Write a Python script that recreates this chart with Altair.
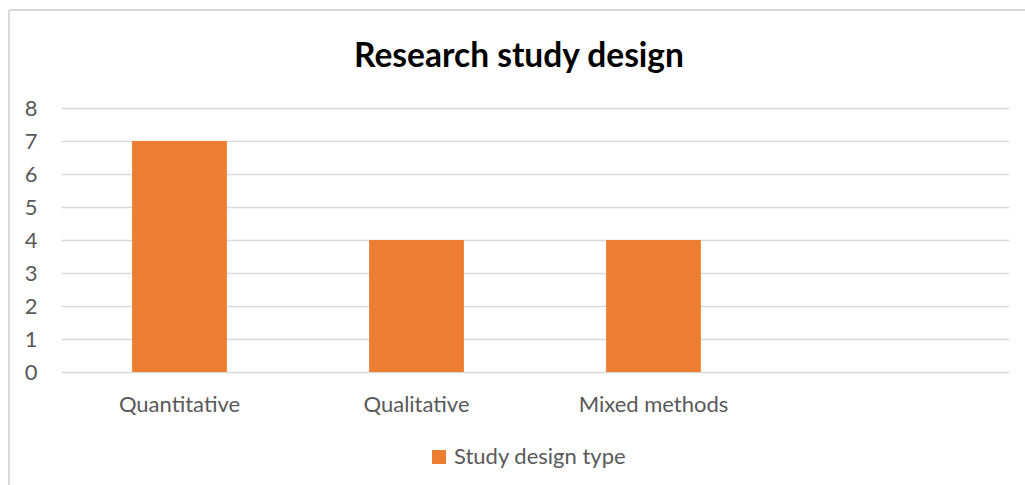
import altair as alt
import pandas as pd

# Study counts by research design
categories = ["Quantitative", "Qualitative", "Mixed methods"]
counts = [7, 4, 4]
axis_slots = categories + [" "]  # trailing empty category slot
series_name = "Study design type"

df = pd.DataFrame({"design": categories, "count": counts, "series": series_name})

FONT = "Lato"
GRID = "#d9d9d9"
TEXT = "#595959"

bars = alt.Chart(df).mark_bar(color="#ED7D31").encode(
    x=alt.X(
        "design:N",
        scale=alt.Scale(domain=axis_slots, paddingInner=0.6, paddingOuter=0.3),
        sort=axis_slots,
        axis=alt.Axis(
            title=None, labelAngle=0, ticks=False, domain=False, grid=False,
            labelPadding=22, labelFontSize=22, labelColor=TEXT, labelFont=FONT,
        ),
    ),
    y=alt.Y(
        "count:Q",
        scale=alt.Scale(domain=[0, 8], nice=False),
        axis=alt.Axis(
            title=None, values=list(range(0, 9)), ticks=False, domain=False,
            gridColor=GRID, gridWidth=1.5, labelPadding=24, labelFontSize=22,
            labelColor=TEXT, labelFont=FONT,
        ),
    ),
    color=alt.Color(
        "series:N",
        scale=alt.Scale(domain=[series_name], range=["#ED7D31"]),
        legend=alt.Legend(
            title=None, orient="none", legendX=367, legendY=338, padding=0,
            symbolType="square", symbolSize=196, symbolStrokeWidth=0,
            labelFontSize=22, labelColor=TEXT, labelFont=FONT, labelOffset=4,
            labelLimit=0,
        ),
    ),
)

# Chart-area border (left and top edges)
frame_left = alt.Chart(df).mark_rule(color=GRID, strokeWidth=1.5).encode(
    x=alt.value(-52), y=alt.value(-98), y2=alt.value(400)
)
frame_top = alt.Chart(df).mark_rule(color=GRID, strokeWidth=1.5).encode(
    x=alt.value(-52), x2=alt.value(1000), y=alt.value(-98)
)

chart = alt.layer(frame_left, frame_top, bars).properties(
    width=948,
    height=264,
    background="white",
    autosize=alt.AutoSizeParams(type="none"),
    padding={"left": 61, "top": 108, "right": 16, "bottom": 113},
    title=alt.TitleParams(
        "Research study design", font=FONT, fontSize=33.5, fontWeight="bold",
        color="#000000", anchor="middle", frame="group", baseline="alphabetic",
        dx=-16, offset=-91,
    ),
).configure_view(stroke=None)

chart.save("out.html", embed_options={"renderer": "svg", "actions": False})
